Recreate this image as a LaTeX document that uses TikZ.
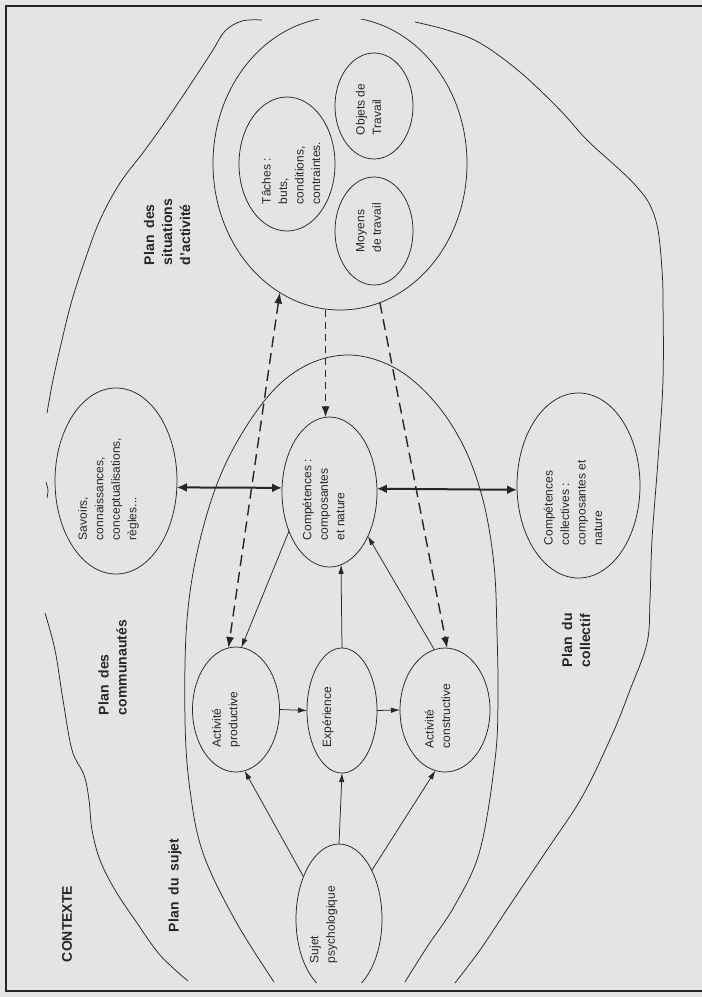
\documentclass[tikz,border=0pt]{standalone}
\usepackage{fontspec}
\setmainfont{Liberation Sans}
\usetikzlibrary{shapes.geometric,arrows.meta}
\definecolor{paper}{RGB}{228,228,226}
\definecolor{ink}{RGB}{38,38,38}
\newcommand{\planfnt}{\fontsize{14}{18}\selectfont\bfseries\spaceskip 0.5em\relax}
\newcommand{\bodyfnt}{\fontsize{12}{16.5}\selectfont}
\begin{document}
\begin{tikzpicture}[x=1pt,y=-1pt,
  every node/.style={inner sep=0pt, outer sep=0pt},
  oval/.style 2 args={ellipse, draw=ink, line width=0.75pt, minimum width=#1, minimum height=#2},
  region/.style={draw=ink, line width=0.75pt},
  body/.style={rotate=90, anchor=west, align=left, font=\bodyfnt, text=ink},
  planlabel/.style={rotate=90, anchor=west, align=left, font=\planfnt, text=ink},
  arr/.style={draw=ink, line width=0.75pt, -{Latex[length=9pt,width=5.5pt]}},
  bold arr/.style={draw=ink, line width=2pt, {Latex[length=10pt,width=9pt]}-{Latex[length=10pt,width=9pt]}},
  dash arr/.style={draw=ink, line width=1.4pt, dash pattern=on 11pt off 6pt, -{Latex[length=11pt,width=8pt]}},
  dash both/.style={draw=ink, line width=1.4pt, dash pattern=on 11pt off 6pt, {Latex[length=11pt,width=8pt]}-{Latex[length=11pt,width=8pt]}},
  dash short/.style={draw=ink, line width=1.2pt, dash pattern=on 7pt off 5pt, -{Latex[length=11pt,width=8pt]}},
]
\useasboundingbox (0,0) rectangle (702,997);
\fill[paper] (0,0) rectangle (702,997);
\draw[ink, line width=1.4pt] (702,6) -- (6,6) -- (6,991) -- (702,991);

% region boundaries
\draw[region] plot[smooth, tension=0.6] coordinates {(262,20) (242,21) (225,31) (213,50) (200,70) (172,112) (145,150) (120,183) (100,220) (85,260) (72,300) (62,340) (53,380) (47,413)};
\draw[region] plot[smooth] coordinates {(46,482) (48,490) (47,498)};
\draw[region] plot[smooth, tension=0.6] coordinates {(45,613) (55,650) (63,700) (72,750) (84,775) (89,800) (92,830) (100,860) (115,890) (135,920) (160,955) (188,981)};
\draw[region] plot[smooth, tension=0.6] coordinates {(415,22) (447,30) (480,43) (520,72) (560,110) (587,140) (620,170) (637,187) (650,205) (658,230) (662,270) (663,300) (663,380) (658,460) (652,540) (650,600) (647,643) (630,690) (612,735) (582,797) (547,850) (510,905) (480,950) (455,983)};
\draw[region] plot[smooth, tension=0.6] coordinates {(274,982) (235,920) (203,853) (190,790) (185,720) (187,620) (200,540) (225,465) (265,400) (305,366) (350,355) (395,368) (433,400) (463,445) (483,500) (494,565) (497,633) (498,700) (495,760) (480,850) (455,905) (427,947) (405,982)};

% situations circle (open at the top)
\begin{scope}
\clip (0,19.5) rectangle (702,997);
\node[oval={254pt}{293pt}] (circ) at (340,163.5) {};
\end{scope}
\node[oval={96pt}{134pt}] (taches) at (287,164) {};
\node[oval={78pt}{106pt}] (objets) at (374,106) {};
\node[oval={78pt}{108pt}] (moyens) at (374,231) {};

\node[oval={122pt}{186pt}] (savoirs) at (116,481) {};
\node[oval={95pt}{150pt}] (comp) at (329.5,492) {};
\node[oval={123pt}{185pt}] (coll) at (578.5,485.5) {};
\node[oval={87pt}{125pt}] (prod) at (236,709.5) {};
\node[oval={70pt}{125pt}] (exp) at (342,710.5) {};
\node[oval={90pt}{124pt}] (cons) at (445,710) {};
\begin{scope}
\clip (0,0) rectangle (702,982);
\node[oval={86pt}{150pt}] (sujet) at (339,919) {};
\end{scope}

% texts
\node[body] (t-taches) at (291,204) {Tâches :\\buts,\\conditions,\\contraintes.};
\node[body] (t-objets) at (368.5,135) {Objets de\\Travail};
\node[body] (t-moyens) at (368.5,252) {Moyens\\de travail};
\node[body] (t-sav) at (108.5,540) {Savoirs,\\connaissances,\\conceptualisations,\\règles...};
\node[body] (t-comp) at (323.5,540) {Compétences :\\composantes\\et nature};
\node[body] (t-coll) at (573,545) {Compétences\\collectives :\\composantes et\\nature};
\node[body] (t-prod) at (226,747) {Activité\\productive};
\node[body] (t-exp) at (328,747) {Expérience};
\node[body] (t-cons) at (437.5,748) {Activité\\constructive};
\node[body] (t-sujet) at (323.5,963) {Sujet\\psychologique};

\node[planlabel] (l-ctx) at (67,962) {CONTEXTE};
\node[planlabel] (l-sujet) at (175,932) {Plan du sujet};
\node[planlabel] (l-comm) at (112.5,715) {Plan des\\communautés};
\node[planlabel] (l-sit) at (167,265) {Plan des\\situations\\d'activité};
\node[planlabel] (l-coll) at (576,667) {Plan du\\collectif};

% connectors
\draw[arr] (sujet.130.6) -- (prod.278);
\draw[arr] (sujet.north) -- (exp.south);
\draw[arr] (sujet.56) -- (cons.261);
\draw[arr] (prod.east) -- (exp.west);
\draw[arr] (exp.east) -- (cons.west);
\draw[arr] (exp.north) -- (comp.279.8);
\draw[arr] (comp.224.7) -- (prod.85);
\draw[arr] (cons.100) -- (comp.311.8);
\draw[bold arr] (savoirs.354.4) -- (comp.175.2);
\draw[bold arr] (comp.4.2) -- (coll.184.2);
\draw[dash both] (circ.245.9) -- (prod.97.3);
\draw[dash short] (comp.93.4 |- circ.south) -- (comp.93.4);
\draw[dash arr] (circ.286.1) -- (cons.88);
\end{tikzpicture}
\end{document}
